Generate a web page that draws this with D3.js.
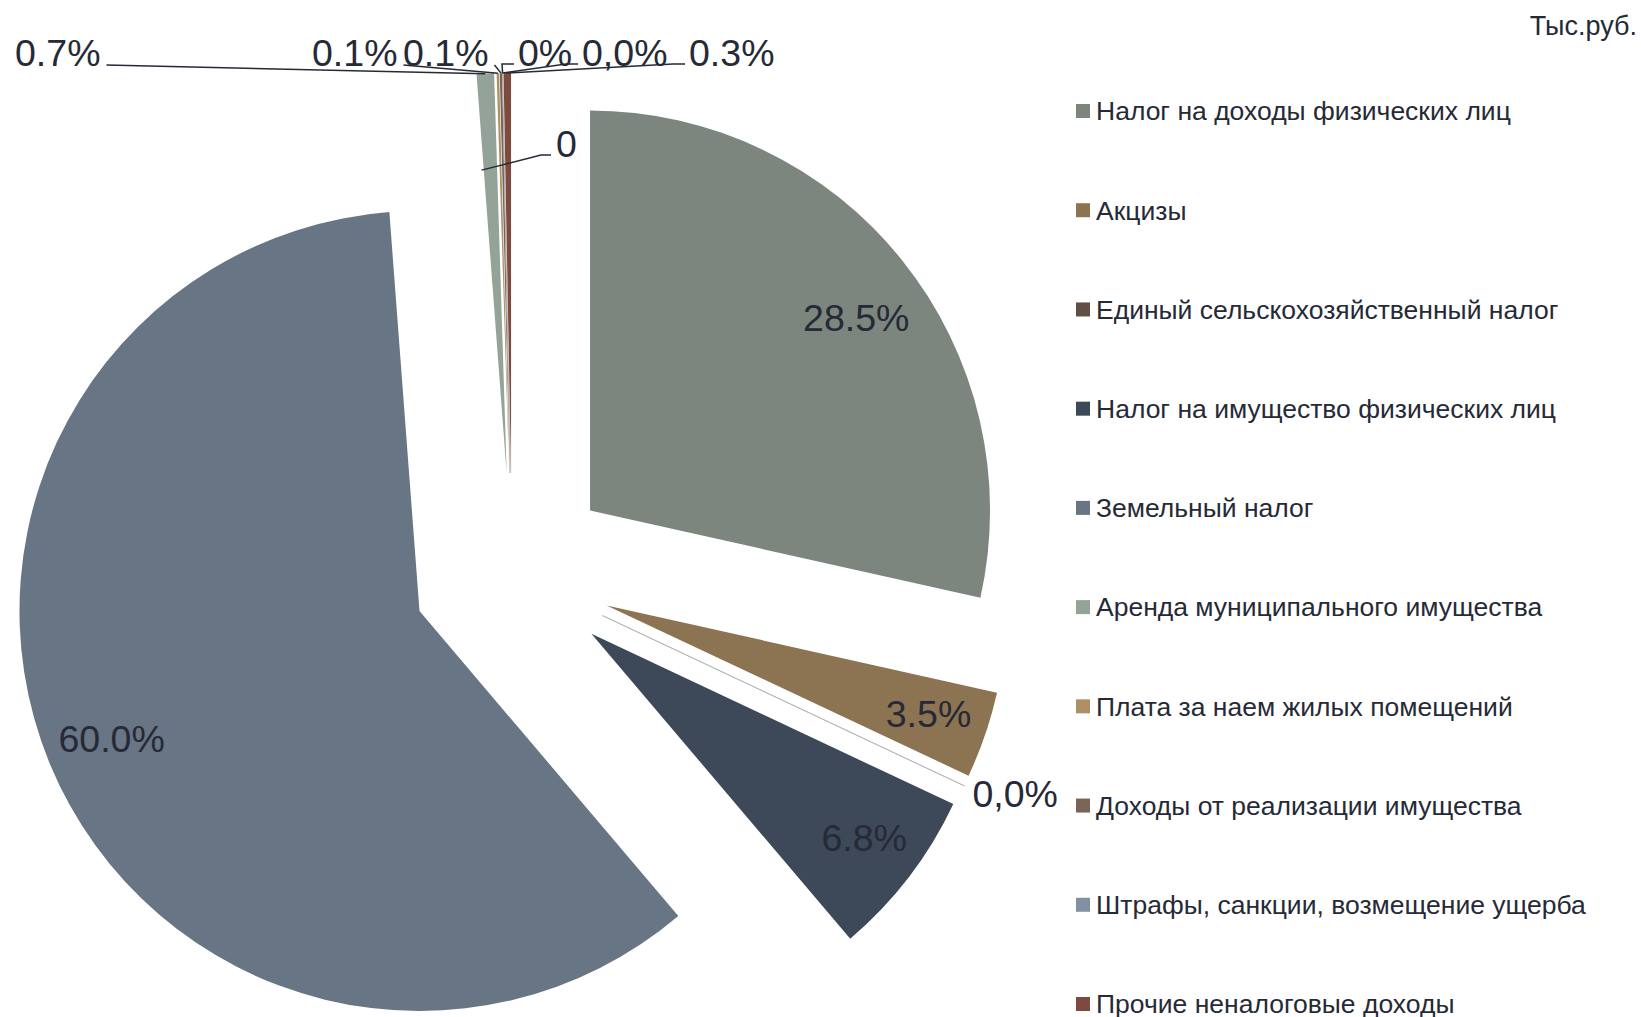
<!DOCTYPE html>
<html>
<head>
<meta charset="utf-8">
<script src="https://cdn.jsdelivr.net/npm/d3@7"></script>
<style>
  body { margin: 0; background: #fff; }
  svg { display: block; font-family: "Liberation Sans", Arial, sans-serif; }
</style>
</head>
<body>
<svg id="chart" width="1641" height="1017"></svg>
<script>
// categories in pie order (two unnamed zero points have no legend entry)
var categories = [
  "Налог на доходы физических лиц",
  "Акцизы",
  "Единый сельскохозяйственный налог",
  "Налог на имущество физических лиц",
  "Земельный налог",
  "",
  "Аренда муниципального имущества",
  "Плата за наем жилых помещений",
  "Доходы от реализации имущества",
  "Штрафы, санкции, возмещение ущерба",
  "",
  "Прочие неналоговые доходы"
];
var shares = [28.5, 3.5, 0.0, 6.8, 60.0, 0, 0.7, 0.1, 0.1, 0.0, 0, 0.3];
var labels = ["28.5%", "3.5%", "0,0%", "6.8%", "60.0%", "0", "0.7%", "0.1%", "0.1%", "0%", "0,0%", "0.3%"];
var colors = ["#7c867e", "#8c7453", "#5f4f45", "#3d4959", "#687585", "#999999",
              "#93a397", "#ad9066", "#7a6458", "#8190a3", "#999999", "#7c4a3e"];
var unitLabel = "Тыс.руб.";

var svg = d3.select("#chart");
var cx = 512, cy = 573, R = 400, explode = 100;
var textColor = "#262a36";

var pie = d3.pie().sort(null).value(function (d) { return d; });
var arcs = pie(shares);
var arc = d3.arc().innerRadius(0).outerRadius(R);

function dir(a) { return [Math.sin(a), -Math.cos(a)]; }
function apex(d) {
  var m = dir((d.startAngle + d.endAngle) / 2);
  return [cx + explode * m[0], cy + explode * m[1]];
}
function pointAt(d, r) {
  var a = apex(d), m = dir((d.startAngle + d.endAngle) / 2);
  return [a[0] + r * m[0], a[1] + r * m[1]];
}

// slices
svg.append("g").selectAll("path")
  .data(arcs)
  .enter().append("path")
  .attr("transform", function (d) { var a = apex(d); return "translate(" + a[0] + "," + a[1] + ")"; })
  .attr("d", arc)
  .attr("fill", function (d, i) { return colors[i]; })
  .attr("stroke", function (d, i) { return (d.value === 0 && categories[i] !== "") ? "#b0b0b0" : "none"; })
  .attr("stroke-width", 0.8);

var lbl = svg.append("g").attr("fill", textColor).attr("font-size", 37.5);

// labels inside the big slices (small nudges where excel moved them)
var nudge = { 0: [4, 17], 1: [4, 0], 3: [6, 0], 4: [3, 0] };
arcs.forEach(function (d, i) {
  if (d.value < 1) return;
  var p = pointAt(d, R * 0.84), n = nudge[i] || [0, 0];
  lbl.append("text").attr("x", p[0] + n[0]).attr("y", p[1] + n[1]).attr("dy", "0.35em")
    .attr("text-anchor", "middle").text(labels[i]);
});

// label for the zero slice between excises and property tax
(function () {
  var d = arcs[2], p = pointAt(d, R);
  lbl.append("text").attr("x", p[0] + 8).attr("y", p[1] + 21).text(labels[2]);
})();

// labels in a row above the pie (small slices near 12 o'clock)
var topRow = [
  { i: 6, x: 15 }, { i: 7, x: 312 }, { i: 8, x: 403 },
  { i: 9, x: 518 }, { i: 10, x: 582 }, { i: 11, x: 689 }
];
var leaders = svg.append("g").attr("fill", "none").attr("stroke", textColor).attr("stroke-width", 1.5);
var line = d3.line();
topRow.forEach(function (t) {
  var d = arcs[t.i];
  var txt = lbl.append("text").attr("x", t.x).attr("y", 66).text(labels[t.i]);
  var bb = txt.node().getBBox();
  var end = pointAt(d, R);
  var pts;
  if (bb.x + bb.width < end[0]) {
    pts = [[bb.x + bb.width + 6, 65], end];
  } else {
    pts = [[bb.x - 4, 64], [bb.x - 16, 64], end];
  }
  leaders.append("path").attr("d", line(pts));
});

// "0" label with leader into the pie
(function () {
  var d = arcs[5], end = pointAt(d, R * 0.76);
  lbl.append("text").attr("x", 556).attr("y", 157).text(labels[5]);
  leaders.append("path").attr("d", line([[551, 155], [541, 155], end]));
})();

// unit caption
svg.append("text").attr("x", 1637).attr("y", 35).attr("text-anchor", "end")
  .attr("font-size", 27).attr("fill", textColor).text(unitLabel);

// legend
var legendItems = categories.map(function (c, i) { return { name: c, color: colors[i] }; })
  .filter(function (d) { return d.name !== ""; });
var ly = d3.scaleLinear().domain([0, legendItems.length - 1]).range([111, 1004]);
var lg = svg.append("g").selectAll("g")
  .data(legendItems)
  .enter().append("g")
  .attr("transform", function (d, i) { return "translate(1076," + ly(i) + ")"; });
lg.append("rect").attr("x", 0).attr("y", -7).attr("width", 14).attr("height", 14)
  .attr("fill", function (d) { return d.color; });
lg.append("text").attr("x", 20).attr("dy", "0.35em").attr("font-size", 26.5)
  .attr("fill", textColor).text(function (d) { return d.name; });
</script>
</body>
</html>
